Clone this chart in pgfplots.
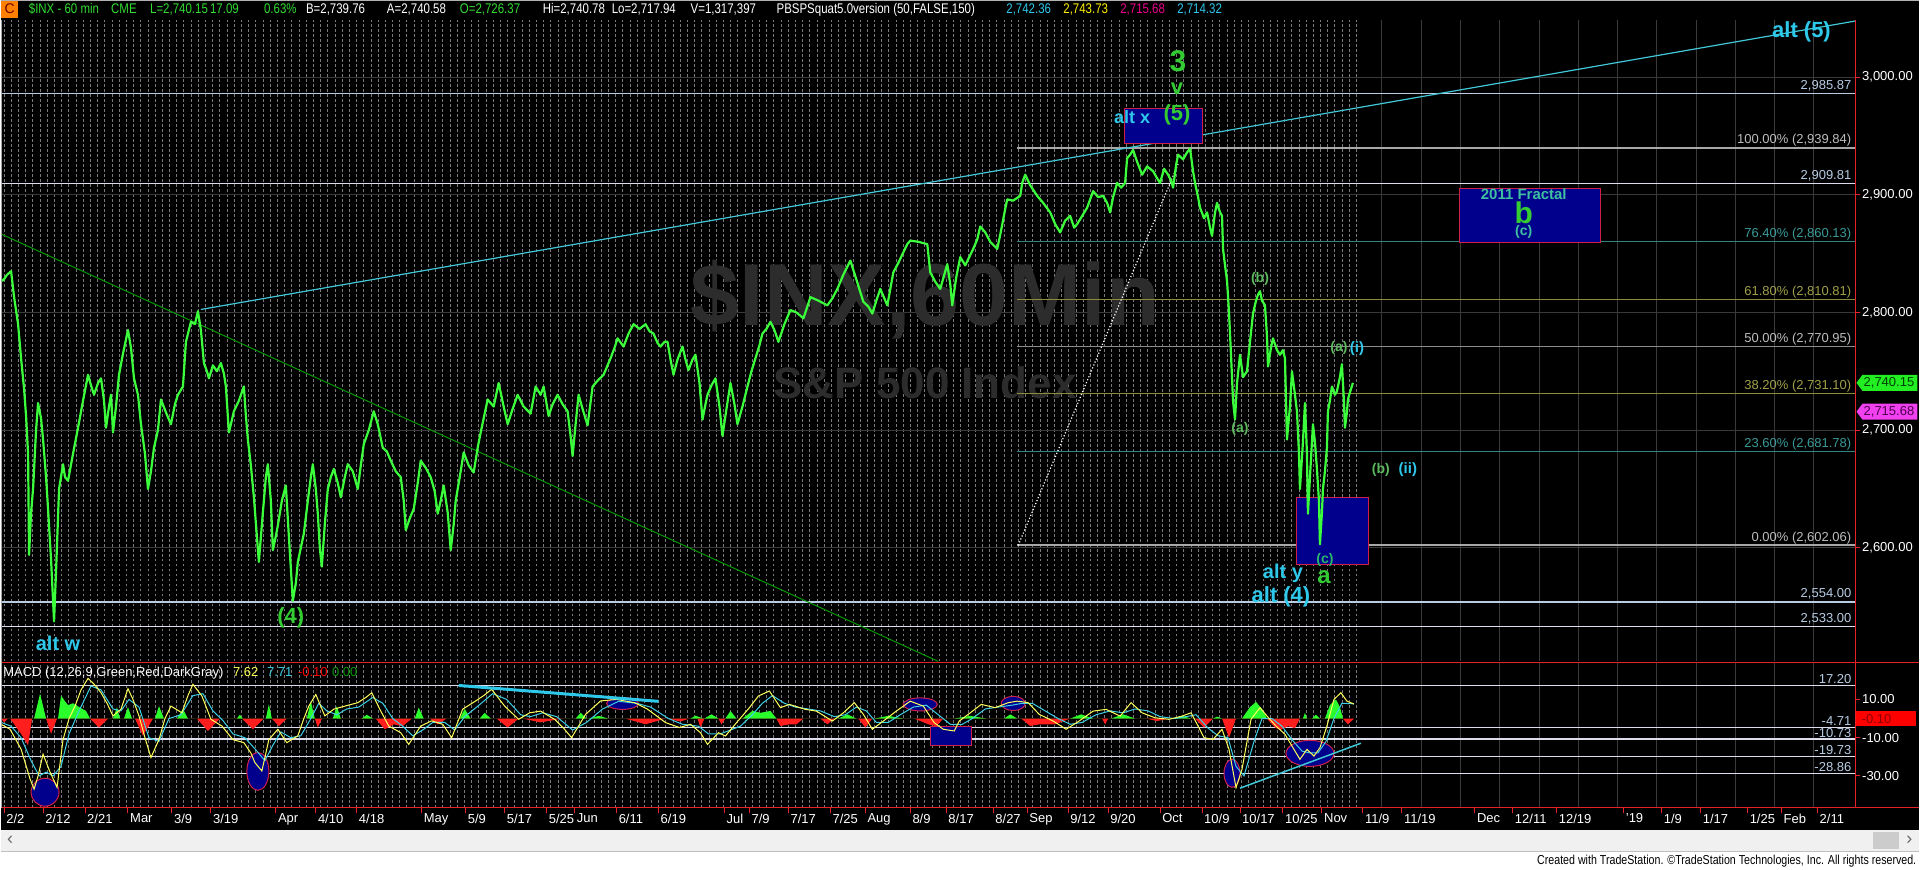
\documentclass[border=0pt]{standalone}
\usepackage{fontspec}
\setmainfont{Liberation Sans}
\newfontfamily\narrowfont[FakeStretch=0.82]{Liberation Sans}
\usepackage{pgfplots}
\pgfplotsset{compat=1.18}
\newcommand{\fs}[1]{\fontsize{#1}{#1}\selectfont}
\definecolor{pgreen}{HTML}{3CFF3C}
\definecolor{wgreen}{HTML}{33CC33}
\definecolor{sgreen}{HTML}{5CB85C}
\definecolor{acyan}{HTML}{2EC8EA}
\definecolor{tcyan}{HTML}{40C8D8}
\definecolor{boxnavy}{HTML}{00008C}
\definecolor{boxedge}{HTML}{D0204A}
\definecolor{lvlblue}{HTML}{B8CCE4}
\definecolor{lvlwhite}{HTML}{DCDCEC}
\definecolor{fibgray}{HTML}{A8A8A8}
\definecolor{fibteal}{HTML}{2F8484}
\definecolor{fibolive}{HTML}{8C8C3C}
\definecolor{fibmid}{HTML}{8E8E8E}
\definecolor{labgray}{HTML}{BDBDBD}
\definecolor{labteal}{HTML}{3A9A9A}
\definecolor{labolive}{HTML}{A0A048}
\definecolor{dgrid}{HTML}{7A7A7A}
\definecolor{wgrid}{HTML}{3A3A3A}
\definecolor{wmark}{HTML}{2C2C2C}
\definecolor{myellow}{HTML}{FFFF5A}
\definecolor{mcyan}{HTML}{3CCFE6}
\definecolor{hgreen}{HTML}{2BFF2B}
\definecolor{hred}{HTML}{FF1E1E}
\definecolor{tred}{HTML}{E8202A}
\definecolor{tgreen}{HTML}{33DD33}
\definecolor{fracteal}{HTML}{40C0A0}
\definecolor{taggreen}{HTML}{22EE22}
\definecolor{tagmag}{HTML}{F040F0}
\pgfplotsset{
  chartpanel/.style={
    scale only axis, width=1856pt, xmin=0, xmax=1856, clip=false,
    axis line style={draw=none},
    tick align=outside, major tick length=5pt,
    tick style={draw=tred, line width=1pt},
    minor tick length=0pt, minor tick style={draw=none},
    xtick={3,42,84,127,171,210,275,315,356,421,465,504,546,574,616,658,724,749,788,830,865,910,946,993,1027,1068,1108,1160,1202,1240,1283,1322,1363,1402,1475,1513,1557,1624,1662,1701,1748,1782,1818},
    minor xtick={3,10.2,...,1353},
    xminorgrids=true,
    minor grid style={draw=dgrid, line width=0.9pt, dash pattern=on 2.5pt off 2.5pt},
    extra x ticks={1382,1421.3,1460.6,1499.9,1539.2,1578.5,1617.8,1657.1,1696.4,1735.7,1775,1814.3},
    extra x tick labels={},
    extra x tick style={grid=major, tick style={draw=none}},
    major grid style={draw=wgrid, line width=0.9pt, solid},
    ytick pos=right, yticklabel pos=right,
    tick label style={font=\fs{13}, text=white},
    yticklabel style={anchor=west, inner sep=1.5pt},
  },
}
\begin{document}
\begin{tikzpicture}[x=1pt,y=1pt]
\fill[black] (0pt,0pt) rectangle (1920pt,870pt);
% ---------------- price panel
\begin{axis}[chartpanel, at={(0pt,208pt)}, anchor=south west, height=642pt,
  ymin=2503.48, ymax=3048.47, xtick pos=left, xticklabels={}, xtick style={draw=none},
  ytick={2600,2700,2800,2900,3000},
  yticklabels={{2,600.00},{2,700.00},{2,800.00},{2,900.00},{3,000.00}},
  ymajorgrids=true]
% watermark
\node[anchor=west, inner sep=0pt, text=wmark, font=\bfseries\fs{88}] at (axis cs:690,2810.8) {\$INX,60Min};
\node[anchor=west, inner sep=0pt, text=wmark, font=\bfseries\fs{44}] at (axis cs:773,2740.3) {S\&P 500 Index};
% horizontal levels
\draw[lvlblue, line width=1.3pt] (axis cs:0,2985.87) -- (axis cs:1856,2985.87);
\draw[lvlwhite, line width=1.3pt] (axis cs:0,2909.81) -- (axis cs:1856,2909.81);
\draw[lvlblue, line width=1.3pt] (axis cs:0,2554) -- (axis cs:1856,2554);
\draw[lvlwhite, line width=1.3pt] (axis cs:0,2533) -- (axis cs:1856,2533);
\draw[fibgray, line width=2pt] (axis cs:1017,2939.84) -- (axis cs:1856,2939.84);
\draw[fibteal, line width=1pt] (axis cs:1017,2860.13) -- (axis cs:1856,2860.13);
\draw[fibolive, line width=1pt] (axis cs:1017,2810.81) -- (axis cs:1856,2810.81);
\draw[fibmid, line width=1pt] (axis cs:1017,2770.95) -- (axis cs:1856,2770.95);
\draw[fibolive, line width=1pt] (axis cs:1017,2731.10) -- (axis cs:1856,2731.10);
\draw[fibteal, line width=1pt] (axis cs:1017,2681.78) -- (axis cs:1856,2681.78);
\draw[fibgray, line width=2pt] (axis cs:1017,2602.06) -- (axis cs:1856,2602.06);
\begin{scope}[every node/.style={anchor=base east, inner sep=0pt, font=\fs{13}, yshift=4pt}]
\node[text=lvlblue] at (axis cs:1852,2985.87) {2,985.87};
\node[text=labgray] at (axis cs:1852,2939.84) {100.00\% (2,939.84)};
\node[text=lvlblue] at (axis cs:1852,2909.81) {2,909.81};
\node[text=labteal] at (axis cs:1852,2860.13) {76.40\% (2,860.13)};
\node[text=labolive] at (axis cs:1852,2810.81) {61.80\% (2,810.81)};
\node[text=labgray] at (axis cs:1852,2770.95) {50.00\% (2,770.95)};
\node[text=labolive] at (axis cs:1852,2731.10) {38.20\% (2,731.10)};
\node[text=labteal] at (axis cs:1852,2681.78) {23.60\% (2,681.78)};
\node[text=labgray] at (axis cs:1852,2602.06) {0.00\% (2,602.06)};
\node[text=lvlblue] at (axis cs:1852,2554) {2,554.00};
\node[text=lvlblue] at (axis cs:1852,2533) {2,533.00};
\end{scope}
% trend lines
\draw[green!60!black, line width=1pt] (axis cs:0,2866.6) -- (axis cs:938,2503.5);
\draw[tcyan, line width=1.2pt] (axis cs:200,2802.5) -- (axis cs:1856,3047.6);
\draw[white, dotted, line width=1.2pt] (axis cs:1018,2602.06) -- (axis cs:1178,2926);
% boxes
\draw[boxedge, fill=boxnavy, line width=1pt] (axis cs:1124,2943.5) rectangle (axis cs:1202,2973.3);
\draw[boxedge, fill=boxnavy, line width=1pt] (axis cs:1297,2585.9) rectangle (axis cs:1369,2642.4);
\draw[boxedge, fill=boxnavy, line width=1pt] (axis cs:1460,2859.3) rectangle (axis cs:1601,2905.7);
% price
\addplot[pgreen, line width=2.2pt, line join=round] coordinates {
(0,2828)(2,2827)(6,2832)(10,2835)(13,2813)(17,2790)(20,2761)(23,2735)(25,2712)(27,2680)(28,2594)(30,2630)(32,2650)(35,2700)(37,2723)(40,2710)(42,2692)(45,2660)(47,2633)(50,2590)(53,2537.5)(55,2580)(58,2650)(62,2671)(64,2660)(67,2657)(72,2680)(77,2702)(82,2725)(87,2747)(90,2738)(93,2730)(97,2740)(100,2744)(103,2725)(105,2702)(108,2720)(110,2730)(112,2698)(115,2720)(118,2747)(122,2765)(127,2785)(130,2770)(133,2744)(137,2730)(140,2705)(144,2680)(147,2650)(150,2665)(153,2685)(157,2700)(160,2726)(165,2715)(170,2705)(174,2722)(177,2730)(182,2737)(185,2775)(190,2792)(194,2790)(197,2801)(200,2785)(203,2757)(206,2750)(208,2744)(212,2755)(216,2750)(220,2757)(223,2748)(225,2737)(228,2698)(230,2705)(233,2716)(238,2725)(243,2737)(245,2712)(247,2692)(250,2670)(253,2643)(256,2610)(258,2588)(262,2630)(265,2660)(267,2671)(270,2640)(272,2598)(275,2610)(277,2619)(281,2640)(285,2653)(288,2610)(292,2555)(295,2570)(297,2588)(300,2600)(303,2612)(307,2640)(310,2660)(312,2671)(315,2650)(317,2629)(319,2600)(321,2584)(324,2620)(327,2650)(330,2660)(333,2667)(337,2655)(340,2643)(344,2660)(347,2671)(352,2665)(357,2650)(360,2670)(363,2688)(368,2700)(373,2716)(377,2705)(382,2685)(386,2682)(390,2674)(395,2665)(400,2660)(403,2640)(405,2615)(409,2625)(413,2633)(417,2655)(420,2674)(425,2668)(430,2660)(434,2648)(437,2629)(440,2640)(443,2653)(447,2630)(450,2598)(453,2620)(455,2640)(459,2660)(463,2681)(468,2670)(473,2664)(477,2685)(480,2698)(487,2726)(493,2720)(498,2740)(503,2720)(507,2705)(512,2718)(517,2730)(523,2720)(530,2714)(535,2737)(540,2730)(543,2737)(548,2712)(552,2722)(557,2730)(562,2722)(567,2716)(570,2695)(572,2678)(575,2705)(578,2730)(582,2718)(587,2704)(592,2737)(597,2742)(603,2747)(607,2755)(610,2761)(614,2770)(617,2778)(623,2771)(628,2782)(633,2790)(639,2786)(645,2790)(649,2784)(653,2782)(657,2774)(660,2771)(664,2775)(667,2775)(670,2760)(673,2747)(677,2760)(682,2771)(685,2760)(688,2751)(692,2760)(695,2764)(699,2740)(702,2709)(705,2722)(707,2730)(711,2738)(715,2744)(719,2720)(722,2695)(726,2718)(730,2740)(734,2722)(737,2705)(742,2720)(747,2737)(751,2750)(755,2761)(759,2772)(762,2782)(766,2786)(770,2792)(774,2785)(778,2775)(784,2790)(790,2802)(796,2800)(803,2795)(807,2805)(810,2813)(818,2810)(827,2806)(832,2812)(837,2820)(843,2832)(850,2844)(856,2828)(863,2809)(868,2805)(872,2799)(876,2810)(880,2820)(884,2812)(887,2806)(890,2820)(893,2834)(898,2842)(903,2851)(907,2858)(910,2861)(918,2860)(927,2858)(930,2834)(935,2826)(940,2820)(944,2832)(947,2841)(950,2824)(952,2806)(956,2830)(960,2847)(965,2840)(973,2854)(977,2862)(980,2873)(985,2868)(990,2860)(997,2854)(1000,2866)(1003,2879)(1005,2888)(1007,2896)(1013,2895)(1020,2899)(1022,2910)(1025,2917)(1030,2908)(1037,2899)(1043,2893)(1050,2885)(1055,2875)(1060,2868)(1065,2878)(1070,2882)(1074,2872)(1077,2875)(1082,2882)(1087,2889)(1090,2896)(1093,2903)(1098,2898)(1103,2899)(1107,2893)(1110,2885)(1113,2898)(1117,2910)(1121,2906)(1125,2910)(1127,2931)(1130,2934)(1133,2938)(1137,2928)(1142,2917)(1147,2924)(1153,2920)(1157,2914)(1160,2910)(1164,2922)(1168,2917)(1171,2912)(1173,2906)(1176,2925)(1178,2934)(1183,2930)(1187,2936)(1190,2939)(1193,2920)(1195,2910)(1198,2898)(1200,2889)(1204,2880)(1207,2885)(1210,2872)(1212,2865)(1215,2885)(1217,2893)(1220,2885)(1222,2882)(1223,2854)(1225,2840)(1227,2827)(1229,2800)(1230,2782)(1232,2745)(1233,2725)(1235,2709)(1237,2740)(1240,2764)(1243,2745)(1247,2750)(1250,2775)(1253,2799)(1256,2810)(1258,2815)(1260,2818)(1262,2810)(1265,2806)(1267,2780)(1268,2754)(1271,2770)(1273,2778)(1277,2768)(1280,2764)(1283,2768)(1285,2761)(1287,2692)(1290,2720)(1292,2750)(1295,2730)(1297,2716)(1299,2680)(1300,2650)(1303,2690)(1305,2723)(1307,2680)(1308,2629)(1310,2660)(1313,2705)(1315,2690)(1317,2667)(1319,2640)(1320,2603)(1322,2630)(1323,2650)(1325,2665)(1327,2685)(1328,2716)(1330,2725)(1332,2737)(1335,2730)(1337,2733)(1340,2745)(1342,2756)(1344,2725)(1345,2702)(1347,2715)(1348,2726)(1350,2732)(1353,2740.15)};
% wave labels
\node[text=acyan, font=\bfseries\fs{22}] at (axis cs:1802,3038.3) {alt (5)};
\node[text=wgreen, font=\bfseries\fs{30}] at (axis cs:1178,3013.8) {3};
\node[text=wgreen, font=\bfseries\fs{22}] at (axis cs:1177,2990.5) {v};
\node[text=wgreen, font=\bfseries\fs{22}] at (axis cs:1177,2968.1) {(5)};
\node[text=acyan, font=\bfseries\fs{18}] at (axis cs:1132,2966.1) {alt x};
\node[text=sgreen, font=\bfseries\fs{14}] at (axis cs:1260,2828.6) {(b)};
\node[text=sgreen, font=\bfseries\fs{14}] at (axis cs:1240,2701.2) {(a)};
\node[text=sgreen, font=\bfseries\fs{14}] at (axis cs:1339,2769.5) {(a)};
\node[text=acyan, font=\bfseries\fs{15}] at (axis cs:1357,2769.5) {(i)};
\node[text=sgreen, font=\bfseries\fs{14}] at (axis cs:1381,2666.5) {(b)};
\node[text=acyan, font=\bfseries\fs{15}] at (axis cs:1408,2666.5) {(ii)};
\node[text=labteal!70!green, font=\bfseries\fs{14}] at (axis cs:1325,2590) {(c)};
\node[text=wgreen, font=\bfseries\fs{24}] at (axis cs:1324,2575) {a};
\node[text=acyan, font=\bfseries\fs{20}] at (axis cs:1283,2578.2) {alt y};
\node[text=acyan, font=\bfseries\fs{22}] at (axis cs:1281,2558.2) {alt (4)};
\node[text=wgreen, font=\bfseries\fs{22}] at (axis cs:290,2540.8) {(4)};
\node[text=acyan, font=\bfseries\fs{20}] at (axis cs:57,2519) {alt w};
\node[text=fracteal, font=\bfseries\fs{15}] at (axis cs:1524,2900.5) {2011 Fractal};
\node[text=wgreen, font=\bfseries\fs{30}] at (axis cs:1524,2884.6) {b};
\node[text=fracteal, font=\bfseries\fs{14}] at (axis cs:1524,2868.3) {(c)};
% price tags (right axis)
\fill[taggreen] (axis cs:1857,2740.15) -- ++(6pt,8pt) -- ++(55pt,0pt) -- ++(0pt,-16pt) -- ++(-55pt,0pt) -- cycle;
\node[anchor=west, inner sep=0pt, font=\fs{13}, text=green!25!black] at (axis cs:1864,2740.15) {2,740.15};
\fill[tagmag] (axis cs:1857,2715.68) -- ++(6pt,8pt) -- ++(55pt,0pt) -- ++(0pt,-16pt) -- ++(-55pt,0pt) -- cycle;
\node[anchor=west, inner sep=0pt, font=\fs{13}, text=violet!60!black] at (axis cs:1864,2715.68) {2,715.68};
\end{axis}
% ---------------- MACD panel
\begin{axis}[chartpanel, at={(0pt,61.7pt)}, anchor=south west, height=145.6pt,
  ymin=-46.53, ymax=29.5, xtick pos=left,
  xticklabels={2/2,2/12,2/21,Mar,3/9,3/19,Apr,4/10,4/18,May,5/9,5/17,5/25,Jun,6/11,6/19,Jul,7/9,7/17,7/25,Aug,8/9,8/17,8/27,Sep,9/12,9/20,Oct,10/9,10/17,10/25,Nov,11/9,11/19,Dec,12/11,12/19,'19,1/9,1/17,1/25,Feb,2/11},
  xticklabel style={anchor=north west, inner sep=1pt, xshift=1pt},
  ytick={-30,-10,10}, yticklabels={{-30.00},{-10.00},{10.00}}]
% level lines
\draw[lvlwhite, line width=1.3pt] (axis cs:0,17.20) -- (axis cs:1856,17.20);
\draw[lvlwhite, line width=1.3pt] (axis cs:0,-4.71) -- (axis cs:1856,-4.71);
\draw[lvlwhite, line width=1.3pt] (axis cs:0,-10.73) -- (axis cs:1856,-10.73);
\draw[lvlwhite, line width=1.3pt] (axis cs:0,-19.73) -- (axis cs:1856,-19.73);
\draw[lvlwhite, line width=1.3pt] (axis cs:0,-28.86) -- (axis cs:1856,-28.86);
\begin{scope}[every node/.style={anchor=base east, inner sep=0pt, font=\fs{13}, text=lvlblue, yshift=2pt}]
\node at (axis cs:1852,17.20) {17.20};
\node at (axis cs:1852,-4.71) {-4.71};
\node at (axis cs:1852,-10.73) {-10.73};
\node at (axis cs:1852,-19.73) {-19.73};
\node at (axis cs:1852,-28.86) {-28.86};
\end{scope}
% annotations under lines
\draw[boxedge, fill=boxnavy, line width=1pt] (axis cs:44,-38.5) ellipse [x radius=14, y radius=7.3];
\draw[boxedge, fill=boxnavy, line width=1pt] (axis cs:257,-27.6) ellipse [x radius=11, y radius=9.9];
\draw[boxedge, fill=boxnavy, line width=1pt] (axis cs:622,7.9) ellipse [x radius=16, y radius=3.1];
\draw[boxedge, fill=boxnavy, line width=1pt] (axis cs:920,7.4) ellipse [x radius=17, y radius=3.4];
\draw[boxedge, fill=boxnavy, line width=1pt] (axis cs:1013,7.9) ellipse [x radius=12, y radius=3.7];
\draw[boxedge, fill=boxnavy, line width=1pt] (axis cs:1232,-28.6) ellipse [x radius=8, y radius=7.3];
\draw[boxedge, fill=boxnavy, line width=1pt] (axis cs:1310,-18.2) ellipse [x radius=24, y radius=6.8];
\draw[boxedge, fill=boxnavy, line width=1pt] (axis cs:930,-4.1) rectangle (axis cs:971,-14.0);
% histogram
\addplot[draw=none, fill=hgreen] coordinates {
(0,0)(33,0)(39,13)(45,0)(57,0)(60,12)(64,9)(67,7)(72,8)(78,6)(85,4)(89,0)(112,0)(116,6)(119,0)(123,0)(127,6)(131,0)(154,0)(158,6.5)(163,0)(176,0)(182,5)(187,0)(236,0)(239,2)(242,0)(265,0)(268,7.5)(271,0)(306,0)(310,9)(314,0)(332,0)(336,6.5)(340,0)(361,0)(366,2)(372,0)(414,0)(418,5.7)(423,0)(459,0)(464,5)(470,0)(479,0)(484,3)(490,0)(575,0)(580,3)(586,0)(588,0)(598,1.4)(608,0)(690,0)(695,1.5)(703,0)(704,0)(711,2.2)(718,0)(725,0)(730,4)(736,0)(742,0)(752,4)(760,3)(770,4)(776,0)(838,0)(847,2.2)(856,0)(874,0)(888,1.4)(903,0)(954,0)(970,1.4)(986,0)(1004,0)(1010,2.2)(1017,0)(1070,0)(1081,2.2)(1093,0)(1111,0)(1123,2.2)(1135,0)(1173,0)(1182,1.4)(1191,0)(1213,0)(1217,1)(1222,0)(1242,0)(1250,6)(1256,8.7)(1262,5)(1267,0)(1303,0)(1305,3)(1307,0)(1312,0)(1316,2)(1320,0)(1325,0)(1330,7)(1336,10)(1340,6)(1343,0)} \closedcycle;
\addplot[draw=none, fill=hred] coordinates {
(0,0)(3,-2)(7,0)(9,0)(20,-8)(27,-14)(31,0)(45,0)(50,-8)(56,0)(89,0)(98,-4.7)(107,0)(134,0)(142,-9)(152,0)(196,0)(207,-6.5)(219,0)(241,0)(252,-5.6)(263,0)(271,0)(278,-4)(286,0)(314,0)(317,-4.7)(321,0)(375,0)(384,-5.6)(393,-3)(402,-4)(411,0)(429,0)(437,-3)(446,0)(496,0)(507,-4.7)(518,0)(522,0)(540,-2)(562,0)(625,0)(645,-3)(665,0)(680,-1.5)(689,0)(697,0)(700,-4.7)(704,0)(718,0)(721,-3)(725,0)(776,0)(780,-3.9)(789,-3)(796,-3)(803,0)(820,0)(827,-3)(834,0)(858,0)(865,-4.7)(872,0)(914,0)(928,-3)(936,-4)(943,0)(1021,0)(1030,-3.9)(1039,-3)(1055,-3)(1070,0)(1102,0)(1105,-3)(1108,0)(1146,0)(1157,-1.3)(1169,0)(1195,0)(1204,-4.7)(1213,0)(1222,0)(1229,-10)(1236,0)(1267,0)(1275,-4.7)(1280,-6)(1288,-4)(1295,-5)(1300,0)(1343,0)(1348,-3)(1354,-0.1)} \closedcycle;
% signal line
\addplot[mcyan, line width=1pt] coordinates {
(0,-2)(10,-4)(20,-10)(30,-22)(38,-30)(45,-28)(52,-30)(60,-25)(68,-8)(78,4)(90,17)(100,15)(112,5)(120,4)(128,10)(138,6)(148,-10)(158,-12)(168,0)(180,2)(192,12)(202,13)(212,4)(222,-1)(232,-8)(244,-10)(256,-17)(264,-22)(272,-14)(280,-7)(290,-10)(300,-9)(310,0)(318,8)(326,4)(336,2)(346,5)(358,6)(372,11)(382,8)(392,0)(402,-4)(412,-9)(422,-6)(432,-2)(444,-2)(454,-6)(464,1)(476,6)(492,13)(506,10)(520,2)(530,1)(542,3)(556,1)(572,-6)(586,-2)(602,5)(618,9)(636,8)(650,6)(668,0)(682,-3)(698,-4)(708,-8)(720,-8)(730,-6)(740,-4)(752,2)(762,8)(772,12)(784,8)(795,6)(808,5)(820,4)(834,1)(845,2)(856,6)(866,4)(876,-2)(888,-2)(900,2)(913,6)(926,7)(938,2)(950,-3)(962,-3)(972,0)(985,5)(998,6)(1012,7)(1022,8)(1032,8)(1045,4)(1058,0)(1070,-3)(1082,-2)(1096,2)(1110,4)(1123,3)(1135,5)(1148,4)(1160,1)(1174,0)(1186,1)(1196,2)(1208,-5)(1218,-9)(1228,-10)(1236,-25)(1244,-30)(1254,-12)(1262,0)(1272,0)(1282,-4)(1292,-11)(1302,-17)(1310,-18)(1318,-18)(1326,-12)(1334,0)(1342,8)(1354,7.7)};
% MACD line
\addplot[myellow, line width=1pt] coordinates {
(0,-3)(9,-5.6)(20,-16)(29,-31.6)(33,-36.9)(37,-30)(42,-18.6)(49,-28)(56,-36)(62,-11)(68,0)(74,6.5)(80,15)(87,21)(93,18)(100,13.5)(106,8)(112,1.4)(120,4.9)(127,15.6)(132,10)(138,1.4)(144,-10)(150,-20.4)(158,-11)(164,0)(170,6.5)(181,3)(187,12)(192,17.9)(201,11.8)(210,-0.4)(221,-3.9)(232,-11)(243,-12.6)(250,-18)(254,-23)(261,-27.4)(268,-11)(277,-5.6)(286,-12.6)(297,-9)(303,0)(308,6.5)(315,12.6)(324,1.4)(333,4.9)(344,6.5)(357,8.3)(365,11)(371,13.5)(379,4.9)(388,-3.9)(400,-7.4)(408,-13.5)(420,-3.9)(431,-1.2)(442,-3)(451,-10)(462,4.9)(475,9.2)(483,12)(491,15.3)(504,6.5)(518,-0.4)(529,3)(540,3.9)(554,-0.4)(563,-5)(571,-10)(585,2.2)(600,9.2)(616,10)(634,8.3)(647,4.9)(665,-2.1)(679,-4.7)(690,-3)(700,-7.4)(707,-13.5)(718,-7.4)(725,-9.1)(736,-2.2)(749,5.7)(758,11.8)(769,14.4)(780,5.7)(789,7.4)(805,4.8)(816,3.9)(832,-1.3)(843,3)(854,8.3)(863,2.2)(872,-5.6)(883,-1.3)(896,3.9)(910,9.1)(923,6.5)(934,-2.2)(943,-5.6)(954,-6.5)(959,-1.3)(968,2.2)(981,7.4)(995,5.7)(1008,8.3)(1017,9.1)(1028,8.3)(1039,2.2)(1053,-1.3)(1066,-5.6)(1079,-1.3)(1093,3.9)(1106,4.8)(1120,1.3)(1131,8.3)(1142,3)(1155,0.4)(1169,-0.4)(1182,1.3)(1191,3)(1198,-3.9)(1204,-10)(1213,-10.9)(1222,-5.6)(1229,-16.1)(1236,-36.1)(1242,-26.5)(1251,-0.4)(1260,5.7)(1267,1.3)(1276,-3.9)(1285,-8.2)(1294,-16.1)(1300,-21.3)(1307,-16.1)(1314,-19.6)(1320,-15.2)(1327,-3.9)(1334,10)(1341,13.5)(1347,9.1)(1354,7.6)};
% trend lines on MACD
\draw[acyan, line width=3pt] (axis cs:458,17.3) -- (axis cs:658,9.0);
\draw[tcyan, line width=1.5pt] (axis cs:1240,-36.4) -- (axis cs:1361,-12.9);
% red tag
\fill[red] (axis cs:1857,-0.1) ++(0pt,-7.5pt) rectangle ++(60pt,15pt);
\node[anchor=west, inner sep=0pt, font=\fs{13}, text=red!55!black] at (axis cs:1862,-0.1) {-0.10};
% panel frame
\draw[tred, line width=1.2pt] (rel axis cs:0,1) -- ++(1920pt,0pt);
\draw[tred, line width=1.2pt] (rel axis cs:0,0) -- ++(1920pt,0pt);
\end{axis}
% ---------------- frame lines
\draw[tred, line width=1.2pt] (1856pt,61.7pt) -- (1856pt,850pt);
\draw[gray!70, line width=1pt] (0.5pt,61.7pt) -- (0.5pt,850pt);
% ---------------- MACD legend
\node[anchor=base west, inner sep=0pt, font=\fs{13}, text=white] at (2pt,193pt) {MACD (12,26,9,Green,Red,DarkGray)};
\node[anchor=base west, inner sep=0pt, font=\fs{13}, text=myellow] at (232pt,193pt) {7.62};
\node[anchor=base west, inner sep=0pt, font=\fs{13}, text=mcyan] at (266pt,193pt) {7.71};
\node[anchor=base west, inner sep=0pt, font=\fs{13}, text=red] at (297pt,193pt) {-0.10};
\node[anchor=base west, inner sep=0pt, font=\fs{13}, text=green!60!black] at (331pt,193pt) {0.00};
% ---------------- title bar
\fill[black] (0pt,850pt) rectangle (1920pt,870pt);
\draw[gray!60, line width=1pt] (0pt,869.5pt) -- (1920pt,869.5pt);
\fill[orange] (0pt,852pt) rectangle (17pt,869pt);
\node[anchor=base, inner sep=0pt, font=\fs{14}, text=red!40!black] at (8.5pt,856pt) {C};
\begin{scope}[every node/.style={anchor=base west, inner sep=0pt, font=\narrowfont\fs{14}}]
\node[text=tgreen] at (27.6pt,856pt) {\$INX - 60 min};
\node[text=tgreen] at (110pt,856pt) {CME};
\node[text=tgreen] at (149pt,856pt) {L=2,740.15};
\node[text=tgreen] at (209pt,856pt) {17.09};
\node[text=tgreen] at (263pt,856pt) {0.63\%};
\node[text=white] at (305pt,856pt) {B=2,739.76};
\node[text=white] at (386pt,856pt) {A=2,740.58};
\node[text=tgreen] at (459pt,856pt) {O=2,726.37};
\node[text=white] at (542pt,856pt) {Hi=2,740.78};
\node[text=white] at (611pt,856pt) {Lo=2,717.94};
\node[text=white] at (690pt,856pt) {V=1,317,397};
\node[text=white] at (776pt,856pt) {PBSPSquat5.0version (50,FALSE,150)};
\node[text=acyan] at (1006pt,856pt) {2,742.36};
\node[text=yellow] at (1063pt,856pt) {2,743.73};
\node[text=magenta] at (1120pt,856pt) {2,715.68};
\node[text=acyan] at (1177pt,856pt) {2,714.32};
\end{scope}
% ---------------- scrollbar & footer
\fill[white] (0pt,0pt) rectangle (1920pt,18pt);
\fill[black!6] (0pt,18pt) rectangle (1920pt,39pt);
\draw[black!25] (0pt,18pt) -- (1920pt,18pt);
\fill[black!20] (1874pt,20pt) rectangle (1900pt,37pt);
\node[font=\fs{18}, text=black!60] at (9pt,28.5pt) {‹};
\node[font=\fs{18}, text=black!60] at (1910pt,28.5pt) {›};
\node[anchor=base east, inner sep=0pt, font=\narrowfont\fs{13}, text=black] at (1917pt,5pt) {Created with TradeStation. ©TradeStation Technologies, Inc. All rights reserved.};
\end{tikzpicture}
\end{document}
